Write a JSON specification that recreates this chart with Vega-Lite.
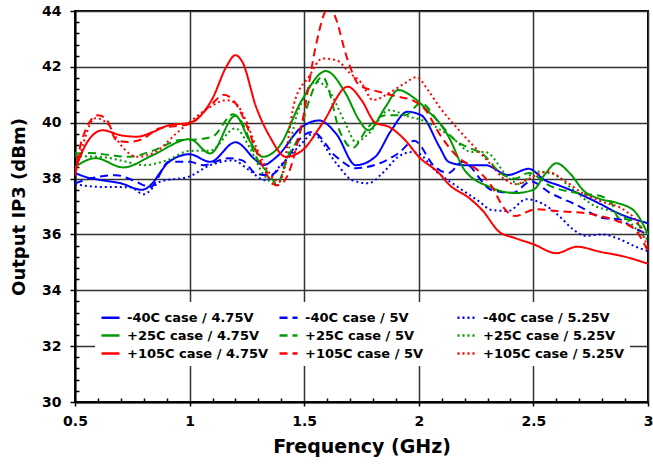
{
  "$schema": "https://vega.github.io/schema/vega-lite/v6.json",
  "width": 573,
  "height": 391,
  "autosize": {"type": "none"},
  "padding": {"left": 75, "top": 11, "right": 5, "bottom": 64},
  "background": "white",
  "data": {"values": [
    {"s":"-40C case / 4.75V","f":0.5,"v":38.2},{"s":"-40C case / 4.75V","f":0.55,"v":38.05},{"s":"-40C case / 4.75V","f":0.61,"v":37.95},{"s":"-40C case / 4.75V","f":0.7,"v":37.83},{"s":"-40C case / 4.75V","f":0.79,"v":37.6},{"s":"-40C case / 4.75V","f":0.84,"v":37.85},{"s":"-40C case / 4.75V","f":0.87,"v":38.2},{"s":"-40C case / 4.75V","f":0.91,"v":38.6},{"s":"-40C case / 4.75V","f":1.0,"v":38.87},{"s":"-40C case / 4.75V","f":1.09,"v":38.6},{"s":"-40C case / 4.75V","f":1.2,"v":39.3},{"s":"-40C case / 4.75V","f":1.29,"v":38.65},{"s":"-40C case / 4.75V","f":1.32,"v":38.48},{"s":"-40C case / 4.75V","f":1.38,"v":38.78},{"s":"-40C case / 4.75V","f":1.49,"v":39.85},{"s":"-40C case / 4.75V","f":1.565,"v":40.08},{"s":"-40C case / 4.75V","f":1.64,"v":39.6},{"s":"-40C case / 4.75V","f":1.725,"v":38.48},{"s":"-40C case / 4.75V","f":1.81,"v":38.78},{"s":"-40C case / 4.75V","f":1.88,"v":39.73},{"s":"-40C case / 4.75V","f":1.95,"v":40.39},{"s":"-40C case / 4.75V","f":2.01,"v":40.27},{"s":"-40C case / 4.75V","f":2.09,"v":39.14},{"s":"-40C case / 4.75V","f":2.13,"v":38.6},{"s":"-40C case / 4.75V","f":2.2,"v":38.48},{"s":"-40C case / 4.75V","f":2.29,"v":38.48},{"s":"-40C case / 4.75V","f":2.39,"v":38.13},{"s":"-40C case / 4.75V","f":2.48,"v":38.35},{"s":"-40C case / 4.75V","f":2.55,"v":37.94},{"s":"-40C case / 4.75V","f":2.61,"v":37.76},{"s":"-40C case / 4.75V","f":2.665,"v":37.58},{"s":"-40C case / 4.75V","f":2.78,"v":37.14},{"s":"-40C case / 4.75V","f":2.87,"v":36.76},{"s":"-40C case / 4.75V","f":3.0,"v":36.4},
    {"s":"-40C case / 5V","f":0.5,"v":37.83},{"s":"-40C case / 5V","f":0.565,"v":38.0},{"s":"-40C case / 5V","f":0.68,"v":38.12},{"s":"-40C case / 5V","f":0.75,"v":37.95},{"s":"-40C case / 5V","f":0.83,"v":37.7},{"s":"-40C case / 5V","f":0.91,"v":38.6},{"s":"-40C case / 5V","f":1.0,"v":38.6},{"s":"-40C case / 5V","f":1.06,"v":38.48},{"s":"-40C case / 5V","f":1.17,"v":38.73},{"s":"-40C case / 5V","f":1.23,"v":38.65},{"s":"-40C case / 5V","f":1.29,"v":38.18},{"s":"-40C case / 5V","f":1.35,"v":38.12},{"s":"-40C case / 5V","f":1.42,"v":38.65},{"s":"-40C case / 5V","f":1.49,"v":39.5},{"s":"-40C case / 5V","f":1.535,"v":39.67},{"s":"-40C case / 5V","f":1.64,"v":38.78},{"s":"-40C case / 5V","f":1.725,"v":38.37},{"s":"-40C case / 5V","f":1.83,"v":38.55},{"s":"-40C case / 5V","f":1.91,"v":38.9},{"s":"-40C case / 5V","f":1.98,"v":39.35},{"s":"-40C case / 5V","f":2.07,"v":38.42},{"s":"-40C case / 5V","f":2.13,"v":38.2},{"s":"-40C case / 5V","f":2.19,"v":38.6},{"s":"-40C case / 5V","f":2.32,"v":37.58},{"s":"-40C case / 5V","f":2.41,"v":37.49},{"s":"-40C case / 5V","f":2.49,"v":37.9},{"s":"-40C case / 5V","f":2.57,"v":37.5},{"s":"-40C case / 5V","f":2.69,"v":37.05},{"s":"-40C case / 5V","f":2.81,"v":36.58},{"s":"-40C case / 5V","f":2.87,"v":36.55},{"s":"-40C case / 5V","f":2.93,"v":36.27},{"s":"-40C case / 5V","f":3.0,"v":36.0},
    {"s":"-40C case / 5.25V","f":0.5,"v":37.8},{"s":"-40C case / 5.25V","f":0.61,"v":37.7},{"s":"-40C case / 5.25V","f":0.74,"v":37.69},{"s":"-40C case / 5.25V","f":0.8,"v":37.44},{"s":"-40C case / 5.25V","f":0.87,"v":37.88},{"s":"-40C case / 5.25V","f":1.0,"v":38.08},{"s":"-40C case / 5.25V","f":1.09,"v":38.48},{"s":"-40C case / 5.25V","f":1.19,"v":38.65},{"s":"-40C case / 5.25V","f":1.26,"v":38.3},{"s":"-40C case / 5.25V","f":1.33,"v":37.94},{"s":"-40C case / 5.25V","f":1.4,"v":38.5},{"s":"-40C case / 5.25V","f":1.49,"v":39.26},{"s":"-40C case / 5.25V","f":1.535,"v":39.6},{"s":"-40C case / 5.25V","f":1.64,"v":38.55},{"s":"-40C case / 5.25V","f":1.71,"v":37.94},{"s":"-40C case / 5.25V","f":1.78,"v":37.83},{"s":"-40C case / 5.25V","f":1.84,"v":38.18},{"s":"-40C case / 5.25V","f":1.91,"v":38.78},{"s":"-40C case / 5.25V","f":1.97,"v":38.95},{"s":"-40C case / 5.25V","f":2.0,"v":38.9},{"s":"-40C case / 5.25V","f":2.07,"v":38.3},{"s":"-40C case / 5.25V","f":2.17,"v":37.7},{"s":"-40C case / 5.25V","f":2.26,"v":37.2},{"s":"-40C case / 5.25V","f":2.32,"v":36.87},{"s":"-40C case / 5.25V","f":2.39,"v":36.84},{"s":"-40C case / 5.25V","f":2.47,"v":37.26},{"s":"-40C case / 5.25V","f":2.54,"v":37.1},{"s":"-40C case / 5.25V","f":2.62,"v":36.6},{"s":"-40C case / 5.25V","f":2.67,"v":36.2},{"s":"-40C case / 5.25V","f":2.73,"v":35.95},{"s":"-40C case / 5.25V","f":2.8,"v":36.0},{"s":"-40C case / 5.25V","f":2.87,"v":35.85},{"s":"-40C case / 5.25V","f":2.95,"v":35.55},{"s":"-40C case / 5.25V","f":3.0,"v":35.4},
    {"s":"+25C case / 4.75V","f":0.5,"v":38.42},{"s":"+25C case / 4.75V","f":0.59,"v":38.73},{"s":"+25C case / 4.75V","f":0.71,"v":38.4},{"s":"+25C case / 4.75V","f":0.84,"v":38.84},{"s":"+25C case / 4.75V","f":1.0,"v":39.41},{"s":"+25C case / 4.75V","f":1.09,"v":38.9},{"s":"+25C case / 4.75V","f":1.2,"v":40.25},{"s":"+25C case / 4.75V","f":1.26,"v":39.38},{"s":"+25C case / 4.75V","f":1.32,"v":38.78},{"s":"+25C case / 4.75V","f":1.39,"v":39.14},{"s":"+25C case / 4.75V","f":1.49,"v":40.81},{"s":"+25C case / 4.75V","f":1.595,"v":41.85},{"s":"+25C case / 4.75V","f":1.68,"v":41.06},{"s":"+25C case / 4.75V","f":1.74,"v":40.09},{"s":"+25C case / 4.75V","f":1.78,"v":39.73},{"s":"+25C case / 4.75V","f":1.855,"v":40.57},{"s":"+25C case / 4.75V","f":1.91,"v":41.17},{"s":"+25C case / 4.75V","f":1.985,"v":40.85},{"s":"+25C case / 4.75V","f":2.05,"v":40.34},{"s":"+25C case / 4.75V","f":2.09,"v":40.0},{"s":"+25C case / 4.75V","f":2.13,"v":39.5},{"s":"+25C case / 4.75V","f":2.2,"v":38.3},{"s":"+25C case / 4.75V","f":2.31,"v":37.7},{"s":"+25C case / 4.75V","f":2.42,"v":37.48},{"s":"+25C case / 4.75V","f":2.5,"v":37.6},{"s":"+25C case / 4.75V","f":2.55,"v":38.15},{"s":"+25C case / 4.75V","f":2.6,"v":38.55},{"s":"+25C case / 4.75V","f":2.66,"v":38.18},{"s":"+25C case / 4.75V","f":2.72,"v":37.56},{"s":"+25C case / 4.75V","f":2.79,"v":37.27},{"s":"+25C case / 4.75V","f":2.865,"v":37.13},{"s":"+25C case / 4.75V","f":2.94,"v":36.84},{"s":"+25C case / 4.75V","f":3.0,"v":36.0},
    {"s":"+25C case / 5V","f":0.5,"v":38.9},{"s":"+25C case / 5V","f":0.565,"v":38.92},{"s":"+25C case / 5V","f":0.65,"v":38.84},{"s":"+25C case / 5V","f":0.74,"v":38.78},{"s":"+25C case / 5V","f":0.84,"v":39.0},{"s":"+25C case / 5V","f":0.96,"v":39.38},{"s":"+25C case / 5V","f":1.03,"v":39.4},{"s":"+25C case / 5V","f":1.1,"v":39.5},{"s":"+25C case / 5V","f":1.19,"v":40.3},{"s":"+25C case / 5V","f":1.23,"v":39.98},{"s":"+25C case / 5V","f":1.29,"v":38.78},{"s":"+25C case / 5V","f":1.35,"v":38.12},{"s":"+25C case / 5V","f":1.38,"v":37.8},{"s":"+25C case / 5V","f":1.43,"v":38.8},{"s":"+25C case / 5V","f":1.48,"v":39.6},{"s":"+25C case / 5V","f":1.51,"v":40.5},{"s":"+25C case / 5V","f":1.58,"v":41.64},{"s":"+25C case / 5V","f":1.66,"v":39.6},{"s":"+25C case / 5V","f":1.71,"v":39.09},{"s":"+25C case / 5V","f":1.78,"v":39.85},{"s":"+25C case / 5V","f":1.855,"v":40.27},{"s":"+25C case / 5V","f":1.94,"v":40.27},{"s":"+25C case / 5V","f":2.01,"v":40.7},{"s":"+25C case / 5V","f":2.09,"v":39.98},{"s":"+25C case / 5V","f":2.17,"v":39.3},{"s":"+25C case / 5V","f":2.22,"v":39.1},{"s":"+25C case / 5V","f":2.275,"v":38.9},{"s":"+25C case / 5V","f":2.36,"v":38.18},{"s":"+25C case / 5V","f":2.42,"v":38.0},{"s":"+25C case / 5V","f":2.48,"v":38.2},{"s":"+25C case / 5V","f":2.57,"v":37.75},{"s":"+25C case / 5V","f":2.72,"v":37.45},{"s":"+25C case / 5V","f":2.78,"v":37.4},{"s":"+25C case / 5V","f":2.84,"v":37.13},{"s":"+25C case / 5V","f":2.87,"v":36.6},{"s":"+25C case / 5V","f":2.93,"v":36.5},{"s":"+25C case / 5V","f":3.0,"v":36.0},
    {"s":"+25C case / 5.25V","f":0.5,"v":38.8},{"s":"+25C case / 5.25V","f":0.61,"v":38.78},{"s":"+25C case / 5.25V","f":0.7,"v":38.65},{"s":"+25C case / 5.25V","f":0.8,"v":38.48},{"s":"+25C case / 5.25V","f":0.9,"v":38.65},{"s":"+25C case / 5.25V","f":1.0,"v":38.99},{"s":"+25C case / 5.25V","f":1.09,"v":39.0},{"s":"+25C case / 5.25V","f":1.2,"v":39.8},{"s":"+25C case / 5.25V","f":1.26,"v":39.14},{"s":"+25C case / 5.25V","f":1.32,"v":38.18},{"s":"+25C case / 5.25V","f":1.38,"v":37.76},{"s":"+25C case / 5.25V","f":1.48,"v":40.57},{"s":"+25C case / 5.25V","f":1.55,"v":41.47},{"s":"+25C case / 5.25V","f":1.595,"v":41.29},{"s":"+25C case / 5.25V","f":1.68,"v":39.98},{"s":"+25C case / 5.25V","f":1.725,"v":39.31},{"s":"+25C case / 5.25V","f":1.78,"v":39.6},{"s":"+25C case / 5.25V","f":1.87,"v":40.45},{"s":"+25C case / 5.25V","f":1.96,"v":40.21},{"s":"+25C case / 5.25V","f":2.01,"v":40.1},{"s":"+25C case / 5.25V","f":2.14,"v":39.5},{"s":"+25C case / 5.25V","f":2.23,"v":38.95},{"s":"+25C case / 5.25V","f":2.29,"v":38.95},{"s":"+25C case / 5.25V","f":2.395,"v":38.0},{"s":"+25C case / 5.25V","f":2.44,"v":37.8},{"s":"+25C case / 5.25V","f":2.51,"v":38.25},{"s":"+25C case / 5.25V","f":2.58,"v":38.18},{"s":"+25C case / 5.25V","f":2.66,"v":37.7},{"s":"+25C case / 5.25V","f":2.75,"v":37.1},{"s":"+25C case / 5.25V","f":2.9,"v":36.6},{"s":"+25C case / 5.25V","f":2.96,"v":36.1},{"s":"+25C case / 5.25V","f":3.0,"v":35.8},
    {"s":"+105C case / 4.75V","f":0.5,"v":38.3},{"s":"+105C case / 4.75V","f":0.55,"v":39.26},{"s":"+105C case / 4.75V","f":0.62,"v":39.73},{"s":"+105C case / 4.75V","f":0.7,"v":39.55},{"s":"+105C case / 4.75V","f":0.77,"v":39.5},{"s":"+105C case / 4.75V","f":0.84,"v":39.67},{"s":"+105C case / 4.75V","f":0.91,"v":39.91},{"s":"+105C case / 4.75V","f":1.0,"v":40.0},{"s":"+105C case / 4.75V","f":1.1,"v":40.87},{"s":"+105C case / 4.75V","f":1.16,"v":42.0},{"s":"+105C case / 4.75V","f":1.2,"v":42.42},{"s":"+105C case / 4.75V","f":1.23,"v":42.18},{"s":"+105C case / 4.75V","f":1.29,"v":40.57},{"s":"+105C case / 4.75V","f":1.35,"v":39.5},{"s":"+105C case / 4.75V","f":1.42,"v":38.78},{"s":"+105C case / 4.75V","f":1.49,"v":39.0},{"s":"+105C case / 4.75V","f":1.58,"v":39.98},{"s":"+105C case / 4.75V","f":1.69,"v":41.29},{"s":"+105C case / 4.75V","f":1.75,"v":40.81},{"s":"+105C case / 4.75V","f":1.81,"v":40.0},{"s":"+105C case / 4.75V","f":1.87,"v":39.85},{"s":"+105C case / 4.75V","f":1.94,"v":39.38},{"s":"+105C case / 4.75V","f":2.0,"v":38.78},{"s":"+105C case / 4.75V","f":2.09,"v":38.18},{"s":"+105C case / 4.75V","f":2.13,"v":37.8},{"s":"+105C case / 4.75V","f":2.22,"v":37.3},{"s":"+105C case / 4.75V","f":2.28,"v":36.84},{"s":"+105C case / 4.75V","f":2.35,"v":36.1},{"s":"+105C case / 4.75V","f":2.42,"v":35.87},{"s":"+105C case / 4.75V","f":2.5,"v":35.65},{"s":"+105C case / 4.75V","f":2.6,"v":35.33},{"s":"+105C case / 4.75V","f":2.69,"v":35.56},{"s":"+105C case / 4.75V","f":2.79,"v":35.38},{"s":"+105C case / 4.75V","f":2.9,"v":35.2},{"s":"+105C case / 4.75V","f":3.0,"v":34.95},
    {"s":"+105C case / 5V","f":0.5,"v":38.12},{"s":"+105C case / 5V","f":0.53,"v":39.38},{"s":"+105C case / 5V","f":0.6,"v":40.27},{"s":"+105C case / 5V","f":0.64,"v":40.09},{"s":"+105C case / 5V","f":0.68,"v":39.38},{"s":"+105C case / 5V","f":0.73,"v":39.31},{"s":"+105C case / 5V","f":0.79,"v":39.4},{"s":"+105C case / 5V","f":0.87,"v":39.8},{"s":"+105C case / 5V","f":1.0,"v":39.95},{"s":"+105C case / 5V","f":1.1,"v":40.7},{"s":"+105C case / 5V","f":1.15,"v":41.0},{"s":"+105C case / 5V","f":1.2,"v":40.7},{"s":"+105C case / 5V","f":1.245,"v":39.98},{"s":"+105C case / 5V","f":1.29,"v":39.0},{"s":"+105C case / 5V","f":1.32,"v":38.42},{"s":"+105C case / 5V","f":1.38,"v":37.76},{"s":"+105C case / 5V","f":1.41,"v":37.88},{"s":"+105C case / 5V","f":1.49,"v":39.98},{"s":"+105C case / 5V","f":1.55,"v":42.72},{"s":"+105C case / 5V","f":1.585,"v":43.85},{"s":"+105C case / 5V","f":1.61,"v":44.2},{"s":"+105C case / 5V","f":1.635,"v":43.8},{"s":"+105C case / 5V","f":1.69,"v":42.24},{"s":"+105C case / 5V","f":1.74,"v":41.35},{"s":"+105C case / 5V","f":1.83,"v":41.1},{"s":"+105C case / 5V","f":1.91,"v":40.93},{"s":"+105C case / 5V","f":1.97,"v":40.81},{"s":"+105C case / 5V","f":2.03,"v":40.45},{"s":"+105C case / 5V","f":2.09,"v":39.6},{"s":"+105C case / 5V","f":2.17,"v":38.77},{"s":"+105C case / 5V","f":2.26,"v":38.28},{"s":"+105C case / 5V","f":2.32,"v":37.7},{"s":"+105C case / 5V","f":2.37,"v":36.96},{"s":"+105C case / 5V","f":2.42,"v":36.66},{"s":"+105C case / 5V","f":2.51,"v":36.9},{"s":"+105C case / 5V","f":2.6,"v":36.84},{"s":"+105C case / 5V","f":2.75,"v":36.73},{"s":"+105C case / 5V","f":2.865,"v":36.48},{"s":"+105C case / 5V","f":2.94,"v":36.2},{"s":"+105C case / 5V","f":3.0,"v":35.4},
    {"s":"+105C case / 5.25V","f":0.5,"v":38.12},{"s":"+105C case / 5.25V","f":0.52,"v":38.78},{"s":"+105C case / 5.25V","f":0.59,"v":40.16},{"s":"+105C case / 5.25V","f":0.64,"v":39.98},{"s":"+105C case / 5.25V","f":0.7,"v":39.2},{"s":"+105C case / 5.25V","f":0.77,"v":38.78},{"s":"+105C case / 5.25V","f":0.85,"v":38.95},{"s":"+105C case / 5.25V","f":0.94,"v":39.6},{"s":"+105C case / 5.25V","f":1.01,"v":40.09},{"s":"+105C case / 5.25V","f":1.09,"v":40.57},{"s":"+105C case / 5.25V","f":1.16,"v":40.81},{"s":"+105C case / 5.25V","f":1.2,"v":40.7},{"s":"+105C case / 5.25V","f":1.245,"v":40.09},{"s":"+105C case / 5.25V","f":1.29,"v":39.14},{"s":"+105C case / 5.25V","f":1.35,"v":38.18},{"s":"+105C case / 5.25V","f":1.39,"v":37.88},{"s":"+105C case / 5.25V","f":1.46,"v":40.81},{"s":"+105C case / 5.25V","f":1.52,"v":41.64},{"s":"+105C case / 5.25V","f":1.58,"v":42.3},{"s":"+105C case / 5.25V","f":1.64,"v":42.24},{"s":"+105C case / 5.25V","f":1.7,"v":41.77},{"s":"+105C case / 5.25V","f":1.75,"v":41.42},{"s":"+105C case / 5.25V","f":1.8,"v":40.81},{"s":"+105C case / 5.25V","f":1.87,"v":41.06},{"s":"+105C case / 5.25V","f":1.94,"v":41.42},{"s":"+105C case / 5.25V","f":1.99,"v":41.63},{"s":"+105C case / 5.25V","f":2.04,"v":41.17},{"s":"+105C case / 5.25V","f":2.09,"v":40.57},{"s":"+105C case / 5.25V","f":2.19,"v":39.6},{"s":"+105C case / 5.25V","f":2.27,"v":38.9},{"s":"+105C case / 5.25V","f":2.32,"v":38.45},{"s":"+105C case / 5.25V","f":2.37,"v":38.0},{"s":"+105C case / 5.25V","f":2.42,"v":37.8},{"s":"+105C case / 5.25V","f":2.52,"v":38.15},{"s":"+105C case / 5.25V","f":2.56,"v":38.25},{"s":"+105C case / 5.25V","f":2.64,"v":37.9},{"s":"+105C case / 5.25V","f":2.72,"v":37.45},{"s":"+105C case / 5.25V","f":2.79,"v":37.2},{"s":"+105C case / 5.25V","f":2.9,"v":36.85},{"s":"+105C case / 5.25V","f":2.96,"v":36.35},{"s":"+105C case / 5.25V","f":3.0,"v":35.5}
  ]},
  "mark": {"type": "line", "interpolate": "monotone", "strokeWidth": 2, "clip": true, "strokeCap": "butt"},
  "encoding": {
    "x": {
      "field": "f", "type": "quantitative",
      "scale": {"domain": [0.5, 3], "nice": false, "zero": false},
      "axis": {
        "title": "Frequency (GHz)",
        "values": [0.5,0.6,0.7,0.8,0.9,1.0,1.1,1.2,1.3,1.4,1.5,1.6,1.7,1.8,1.9,2.0,2.1,2.2,2.3,2.4,2.5,2.6,2.7,2.8,2.9,3.0],
        "labelExpr": "abs(round(datum.value*10)%5)==0 ? toString(round(datum.value*10)/10) : ''",
        "tickSize": {"condition": {"test": "abs(round(datum.value*10)%5)==0", "value": 4}, "value": -4},
        "gridOpacity": {"condition": {"test": "abs(round(datum.value*10)%5)==0", "value": 1}, "value": 0},
        "labelFlush": false,
        "labelOverlap": false,
        "labelPadding": 8,
        "titlePadding": 9,
        "titleFontSize": 19
      }
    },
    "y": {
      "field": "v", "type": "quantitative",
      "scale": {"domain": [30, 44], "nice": false, "zero": false},
      "axis": {
        "title": "Output IP3 (dBm)",
        "values": [30,30.4,30.8,31.2,31.6,32,32.4,32.8,33.2,33.6,34,34.4,34.8,35.2,35.6,36,36.4,36.8,37.2,37.6,38,38.4,38.8,39.2,39.6,40,40.4,40.8,41.2,41.6,42,42.4,42.8,43.2,43.6,44],
        "labelExpr": "abs(round(datum.value*10)%20)==0 ? toString(round(datum.value)) : ''",
        "tickSize": {"condition": {"test": "abs(round(datum.value*10)%20)==0", "value": 5}, "value": -4},
        "gridOpacity": {"condition": {"test": "abs(round(datum.value*10)%20)==0", "value": 1}, "value": 0},
        "labelOverlap": false,
        "labelFlush": false,
        "labelPadding": 9,
        "titlePadding": 13,
        "titleFontSize": 18
      }
    },
    "color": {
      "field": "s", "type": "nominal",
      "scale": {
        "domain": ["-40C case / 4.75V","-40C case / 5V","-40C case / 5.25V","+25C case / 4.75V","+25C case / 5V","+25C case / 5.25V","+105C case / 4.75V","+105C case / 5V","+105C case / 5.25V"],
        "range": ["#0000ff","#0000ff","#0000ff","#009900","#009900","#009900","#ff0000","#ff0000","#ff0000"]
      },
      "legend": {"title": null}
    },
    "strokeDash": {
      "field": "s", "type": "nominal",
      "scale": {
        "domain": ["-40C case / 4.75V","-40C case / 5V","-40C case / 5.25V","+25C case / 4.75V","+25C case / 5V","+25C case / 5.25V","+105C case / 4.75V","+105C case / 5V","+105C case / 5.25V"],
        "range": [[1,0],[8,5],[2,3],[1,0],[8,5],[2,3],[1,0],[8,5],[2,3]]
      },
      "legend": {"title": null}
    }
  },
  "config": {
    "font": "DejaVu Sans",
    "view": {"stroke": "black", "strokeWidth": 2},
    "axis": {
      "domainColor": "black",
      "domainWidth": 2,
      "tickColor": "black",
      "tickWidth": 1.5,
      "gridColor": "#333333",
      "gridWidth": 1.5,
      "labelFont": "DejaVu Sans",
      "labelFontSize": 14,
      "labelFontWeight": "bold",
      "labelColor": "black",
      "titleFont": "DejaVu Sans",
      "titleFontWeight": "bold",
      "titleColor": "black"
    },
    "legend": {
      "orient": "none",
      "legendX": 20,
      "legendY": 291,
      "columns": 3,
      "direction": "horizontal",
      "gridAlign": "all",
      "columnPadding": 5,
      "rowPadding": 0,
      "padding": 5,
      "fillColor": "white",
      "strokeColor": null,
      "symbolType": "stroke",
      "symbolSize": 324,
      "symbolStrokeWidth": 2.5,
      "labelFont": "DejaVu Sans",
      "labelFontSize": 13,
      "labelFontWeight": "bold",
      "labelColor": "black",
      "labelOffset": 6,
      "labelLimit": 300
    }
  }
}
